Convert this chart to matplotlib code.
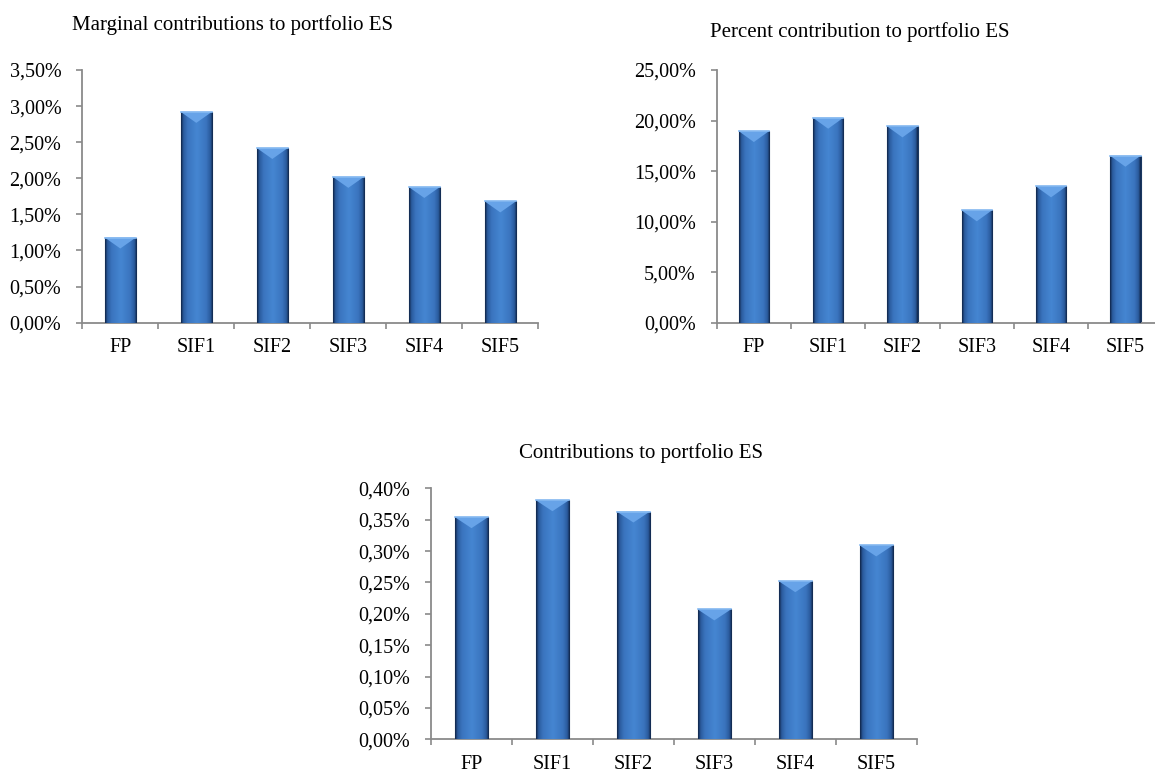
import numpy as np
import matplotlib.pyplot as plt
from matplotlib.colors import LinearSegmentedColormap
from matplotlib.patches import Polygon
from matplotlib.ticker import FuncFormatter, MultipleLocator

# data (values in %)
categories = ["FP", "SIF1", "SIF2", "SIF3", "SIF4", "SIF5"]
marginal = [1.18, 2.92, 2.42, 2.02, 1.88, 1.68]
percent = [18.96, 20.28, 19.42, 11.12, 13.49, 16.52]
contrib = [0.354, 0.381, 0.363, 0.207, 0.252, 0.309]

titles = ["Marginal contributions to portfolio ES",
          "Percent contribution to portfolio ES",
          "Contributions to portfolio ES"]

W, H = 1155, 773
plt.rcParams['font.family'] = ['Liberation Serif', 'DejaVu Serif']
fig = plt.figure(figsize=(W / 100, H / 100), dpi=100)

axis_col = '#8a8a8a'
bar_cmap = LinearSegmentedColormap.from_list(
    'bar', [(0.0, '#10264a'), (0.07, '#2a5a9c'), (0.2, '#3a74be'),
            (0.5, '#4586d2'), (0.8, '#3a74be'), (0.93, '#2a5a9c'), (1.0, '#10264a')])
grad = bar_cmap(np.linspace(0, 1, 64))[None, :, :3]


def draw_panel(rect, values, ymax, step, title, tx, ty):
    ax = fig.add_axes(rect)
    x = np.arange(len(categories))
    bars = ax.bar(x, values, width=0.41, color='#3a76c2', edgecolor='#1a3760',
                  linewidth=0.8, zorder=2)
    bevel = ymax * 11 / (rect[3] * H)
    for b in bars:
        x0, w, h = b.get_x(), b.get_width(), b.get_height()
        im = ax.imshow(grad, extent=(x0, x0 + w, 0, h), aspect='auto',
                       interpolation='bilinear', zorder=3)
        im.set_clip_path(b)
        ax.add_patch(Polygon([(x0, h), (x0 + w, h), (x0 + w / 2, h - bevel)],
                             closed=True, facecolor='#67a3e8', edgecolor='none',
                             zorder=4))
        ax.plot([x0, x0 + w], [h, h], color='#86baf2', lw=1.2, zorder=5)
    ax.set_xlim(-0.5, len(categories) - 0.5)
    ax.set_ylim(0, ymax)
    ax.yaxis.set_major_locator(MultipleLocator(step))
    ax.yaxis.set_major_formatter(FuncFormatter(
        lambda v, p: f"{v:.2f}%".replace('.', ',')))
    ax.set_xticks(x)
    ax.set_xticklabels(categories)
    ax.set_xticks(np.arange(-0.5, len(categories)), minor=True)
    for s in ['top', 'right']:
        ax.spines[s].set_visible(False)
    for s in ['left', 'bottom']:
        ax.spines[s].set_color(axis_col)
        ax.spines[s].set_linewidth(1.3)
    ax.tick_params(axis='x', which='major', length=0, pad=11, labelsize=14.5)
    ax.tick_params(axis='x', which='minor', length=4.5, width=1.2, color=axis_col)
    ax.tick_params(axis='y', length=4.5, width=1.2, color=axis_col, pad=10.5,
                   labelsize=14.5)
    fig.text(tx / W, 1 - ty / H, title, ha='center', va='baseline', fontsize=15)
    return ax


draw_panel([82.3 / W, 1 - 322.7 / H, 456 / W, 252.7 / H], marginal, 3.5, 0.5,
           titles[0], 232, 30)
draw_panel([716.7 / W, 1 - 322.7 / H, 445.8 / W, 252.7 / H], percent, 25, 5,
           titles[1], 860, 37)
draw_panel([431 / W, 1 - 739.3 / H, 485.7 / W, 251 / H], contrib, 0.4, 0.05,
           titles[2], 641, 458)

fig.savefig('out.png', dpi=100)
